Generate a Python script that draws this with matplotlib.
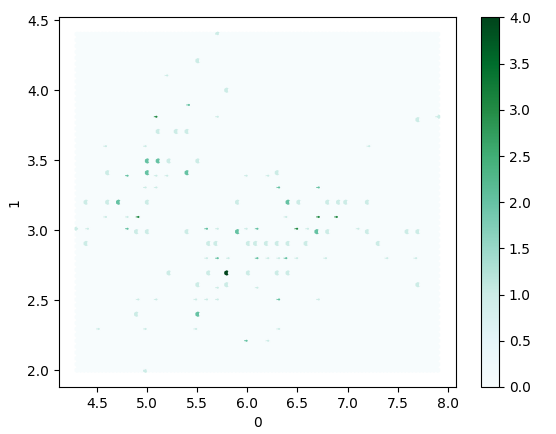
import matplotlib
matplotlib.use("Agg")
import matplotlib.pyplot as plt

# sepal length / width pairs
x_vals = [5.1,4.9,4.7,4.6,5.0,5.4,4.6,5.0,4.4,4.9,5.4,4.8,4.8,4.3,5.8,5.7,5.4,5.1,5.7,5.1,5.4,5.1,4.6,5.1,4.8,5.0,5.0,5.2,5.2,4.7,4.8,5.4,5.2,5.5,4.9,5.0,5.5,4.9,4.4,5.1,5.0,4.5,4.4,5.0,5.1,4.8,5.1,4.6,5.3,5.0,
          7.0,6.4,6.9,5.5,6.5,5.7,6.3,4.9,6.6,5.2,5.0,5.9,6.0,6.1,5.6,6.7,5.6,5.8,6.2,5.6,5.9,6.1,6.3,6.1,6.4,6.6,6.8,6.7,6.0,5.7,5.5,5.5,5.8,6.0,5.4,6.0,6.7,6.3,5.6,5.5,5.5,6.1,5.8,5.0,5.6,5.7,5.7,6.2,5.1,5.7,
          6.3,5.8,7.1,6.3,6.5,7.6,4.9,7.3,6.7,7.2,6.5,6.4,6.8,5.7,5.8,6.4,6.5,7.7,7.7,6.0,6.9,5.6,7.7,6.3,6.7,7.2,6.2,6.1,6.4,7.2,7.4,7.9,6.4,6.3,6.1,7.7,6.3,6.4,6.0,6.9,6.7,6.9,5.8,6.8,6.7,6.7,6.3,6.5,6.2,5.9]
y_vals = [3.5,3.0,3.2,3.1,3.6,3.9,3.4,3.4,2.9,3.1,3.7,3.4,3.0,3.0,4.0,4.4,3.9,3.5,3.8,3.8,3.4,3.7,3.6,3.3,3.4,3.0,3.4,3.5,3.4,3.2,3.1,3.4,4.1,4.2,3.1,3.2,3.5,3.1,3.0,3.4,3.5,2.3,3.2,3.5,3.8,3.0,3.8,3.2,3.7,3.3,
          3.2,3.2,3.1,2.3,2.8,2.8,3.3,2.4,2.9,2.7,2.0,3.0,2.2,2.9,2.9,3.1,3.0,2.7,2.2,2.5,3.2,2.8,2.5,2.8,2.9,3.0,2.8,3.0,2.9,2.6,2.4,2.4,2.7,2.7,3.0,3.4,3.1,2.3,3.0,2.5,2.6,3.0,2.6,2.3,2.7,3.0,2.9,2.9,2.5,2.8,
          3.3,2.7,3.0,2.9,3.0,3.0,2.5,2.9,2.5,3.6,3.2,2.7,3.0,2.5,2.8,3.2,3.0,3.8,2.6,2.2,3.2,2.8,2.8,2.7,3.3,3.2,2.8,3.0,2.8,3.0,2.8,3.8,2.8,2.8,2.6,3.0,3.4,3.1,3.0,3.1,3.1,3.1,2.7,3.2,3.3,3.0,2.5,3.0,3.4,3.0]

W, H = 556, 434
fig = plt.figure(figsize=(W / 100, H / 100), dpi=100)
ax = fig.add_axes([59 / W, 1 - 387 / H, 396.8 / W, 369.6 / H])
cax = fig.add_axes([480.6 / W, 1 - 387 / H, 18.5 / W, 369.6 / H])

hb = ax.hexbin(x_vals, y_vals, gridsize=100, cmap="BuGn")
fig.colorbar(hb, cax=cax)
ax.set_xlabel("0")
ax.set_ylabel("1")

fig.savefig("out.png", dpi=100)
